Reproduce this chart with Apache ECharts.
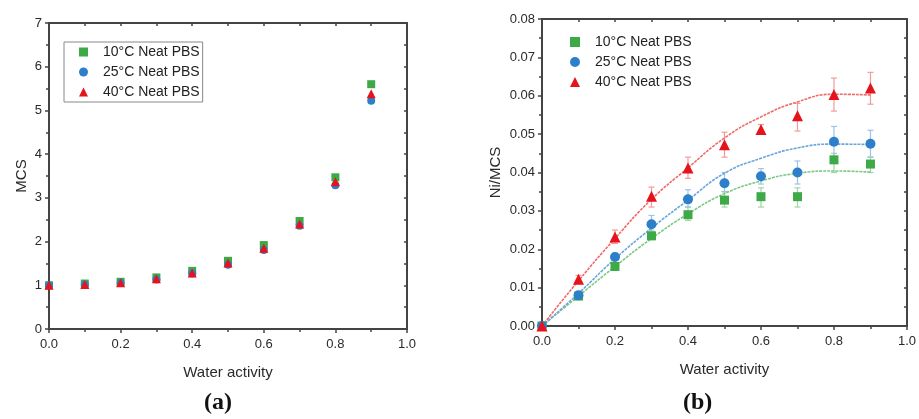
<!DOCTYPE html>
<html>
<head>
<meta charset="utf-8">
<script src="https://cdn.jsdelivr.net/npm/echarts@6/dist/echarts.min.js"></script>
<style>html,body{margin:0;padding:0;background:#fff}#c{width:919px;height:419px}</style>
</head>
<body>
<div id="c"></div>
<script>
// ---------- data ----------
const waterActivity = [0, 0.1, 0.2, 0.3, 0.4, 0.5, 0.6, 0.7, 0.8, 0.9];
const seriesNames = ['10°C Neat PBS', '25°C Neat PBS', '40°C Neat PBS'];

// (a) MCS
const mcs10 = [1.0, 1.04, 1.08, 1.18, 1.33, 1.56, 1.92, 2.47, 3.47, 5.6];
const mcs25 = [1.0, 1.01, 1.05, 1.13, 1.27, 1.47, 1.81, 2.36, 3.29, 5.22];
const mcs40 = [1.0, 1.02, 1.06, 1.15, 1.28, 1.51, 1.85, 2.40, 3.37, 5.38];

// (b) Ni/MCS
const ni10 = [0, 0.0078, 0.0155, 0.0235, 0.0290, 0.0328, 0.0337, 0.0337, 0.0433, 0.0422];
const ni25 = [0, 0.0080, 0.0180, 0.0265, 0.0330, 0.0372, 0.0390, 0.0400, 0.0480, 0.0475];
const ni40 = [0, 0.0122, 0.0232, 0.0338, 0.0412, 0.0472, 0.0512, 0.0548, 0.0603, 0.0620];

const ni10Low  = [0, 0.0072, 0.0148, 0.0225, 0.0275, 0.0310, 0.0310, 0.0310, 0.0400, 0.0400];
const ni10High = [0, 0.0085, 0.0162, 0.0250, 0.0310, 0.0350, 0.0360, 0.0360, 0.0450, 0.0440];
const ni25Low  = [0, 0.0075, 0.0172, 0.0245, 0.0310, 0.0350, 0.0370, 0.0370, 0.0440, 0.0440];
const ni25High = [0, 0.0088, 0.0190, 0.0288, 0.0355, 0.0400, 0.0410, 0.0430, 0.0520, 0.0510];
const ni40Low  = [0, 0.0112, 0.0215, 0.0310, 0.0385, 0.0440, 0.0500, 0.0508, 0.0560, 0.0578];
const ni40High = [0, 0.0132, 0.0250, 0.0362, 0.0440, 0.0505, 0.0525, 0.0580, 0.0646, 0.0661];

// fitted curves
const fit10 = [0, 0.0078, 0.0155, 0.0228, 0.0292, 0.0345, 0.0378, 0.0398, 0.0404, 0.0401];
const fit25 = [0, 0.0085, 0.0175, 0.0255, 0.0328, 0.0398, 0.0437, 0.0464, 0.0474, 0.0473];
const fit40 = [0, 0.0118, 0.0228, 0.0330, 0.0412, 0.0490, 0.0545, 0.0584, 0.0604, 0.0602];

// ---------- styling ----------
const FONT = 'Liberation Sans, Arial, sans-serif';
const AX = '#444';
const TXT = '#2a2a2a';
const colors = ['#3daa47', '#2e7fc9', '#e5131b'];
const fitColors = ['#7cc884', '#6aa6dc', '#f06a6a'];
const errColors = ['#9fd6a4', '#9cc3e8', '#f29a9a'];
const symbols = ['rect', 'circle', 'triangle'];
const symSizeA = [8, 8, 9];
const symSizeB = [9, 10, 11];

function pairs(xs, ys) { return xs.map((x, i) => [x, ys[i]]); }
function triples(xs, lo, hi) { return xs.slice(1).map((x, i) => [x, lo[i + 1], hi[i + 1]]); }

function bottomX(gi, name) {
  return {
    gridIndex: gi, type: 'value', position: 'bottom', min: 0, max: 1, interval: 0.2,
    axisLine: { onZero: false, lineStyle: { color: AX, width: 2 } },
    axisTick: { inside: false, length: 4, lineStyle: { color: AX, width: 1.5 } },
    minorTick: { show: true, splitNumber: 2, length: 3, lineStyle: { color: AX, width: 1.5 } },
    splitLine: { show: false },
    axisLabel: { formatter: v => v.toFixed(1), fontSize: 13, color: TXT, margin: 9, fontFamily: FONT },
    name: name, nameLocation: 'middle', nameGap: 36,
    nameTextStyle: { fontSize: 15, color: TXT, fontFamily: FONT }
  };
}
function topX(gi) {
  return {
    gridIndex: gi, type: 'value', position: 'top', min: 0, max: 1, interval: 0.1,
    axisLine: { onZero: false, lineStyle: { color: AX, width: 2 } },
    axisTick: { inside: true, length: 3, lineStyle: { color: AX, width: 1.5 } },
    axisLabel: { show: false }, splitLine: { show: false }
  };
}
function leftY(gi, max, interval, fmt, name, gap) {
  return {
    gridIndex: gi, type: 'value', position: 'left', min: 0, max: max, interval: interval,
    axisLine: { show: true, onZero: false, lineStyle: { color: AX, width: 2 } },
    axisTick: { show: true, inside: false, length: 4, lineStyle: { color: AX, width: 1.5 } },
    minorTick: { show: true, splitNumber: 2, length: 3, lineStyle: { color: AX, width: 1.5 } },
    splitLine: { show: false },
    axisLabel: { formatter: fmt, fontSize: 13, color: TXT, margin: 7, fontFamily: FONT },
    name: name, nameLocation: 'middle', nameGap: gap,
    nameTextStyle: { fontSize: 15, color: TXT, fontFamily: FONT }
  };
}
function rightY(gi, max, interval) {
  return {
    gridIndex: gi, type: 'value', position: 'right', min: 0, max: max, interval: interval,
    axisLine: { show: true, onZero: false, lineStyle: { color: AX, width: 2 } },
    axisTick: { show: true, inside: true, length: 3, lineStyle: { color: AX, width: 1.5 } },
    axisLabel: { show: false }, splitLine: { show: false }
  };
}

const series = [];
const mcsAll = [mcs10, mcs25, mcs40];
mcsAll.forEach((vals, k) => {
  series.push({
    name: seriesNames[k], type: 'scatter', xAxisIndex: 0, yAxisIndex: 0,
    symbol: symbols[k], symbolSize: symSizeA[k], clip: false,
    itemStyle: { color: colors[k], opacity: 1 },
    data: pairs(waterActivity, vals), z: 3 + k
  });
});

const fits = [fit10, fit25, fit40];
fits.forEach((vals, k) => {
  series.push({
    name: 'fit' + k, type: 'line', xAxisIndex: 2, yAxisIndex: 2,
    smooth: true, showSymbol: false, symbol: 'none', silent: true,
    lineStyle: { color: fitColors[k], width: 1.6, type: [3, 1] },
    data: pairs(waterActivity, vals), z: 2
  });
});

const errs = [[ni10Low, ni10High], [ni25Low, ni25High], [ni40Low, ni40High]];
errs.forEach((lh, k) => {
  series.push({
    name: 'err' + k, type: 'custom', xAxisIndex: 2, yAxisIndex: 2, silent: true, z: 2,
    renderItem: function (params, api) {
      const x = api.value(0), lo = api.value(1), hi = api.value(2);
      const a = api.coord([x, lo]), b = api.coord([x, hi]);
      const st = { stroke: errColors[k], lineWidth: 1.2 };
      return {
        type: 'group', children: [
          { type: 'line', shape: { x1: a[0], y1: a[1], x2: b[0], y2: b[1] }, style: st },
          { type: 'line', shape: { x1: a[0] - 3, y1: a[1], x2: a[0] + 3, y2: a[1] }, style: st },
          { type: 'line', shape: { x1: b[0] - 3, y1: b[1], x2: b[0] + 3, y2: b[1] }, style: st }
        ]
      };
    },
    data: triples(waterActivity, lh[0], lh[1])
  });
});

const niAll = [ni10, ni25, ni40];
niAll.forEach((vals, k) => {
  series.push({
    name: seriesNames[k], type: 'scatter', xAxisIndex: 2, yAxisIndex: 2,
    symbol: symbols[k], symbolSize: symSizeB[k], clip: false,
    itemStyle: { color: colors[k], opacity: 1 },
    data: pairs(waterActivity, vals), z: 5 + k
  });
});

const legendText = { fontSize: 14, color: '#222', fontFamily: FONT, lineHeight: 14, padding: [0, 0, 0, 10] };

const option = {
  animation: false,
  backgroundColor: '#fff',
  grid: [
    { left: 49, top: 23, width: 358, height: 306 },
    { left: 542, top: 19, width: 368, height: 307 }
  ],
  xAxis: [bottomX(0, 'Water activity'), topX(0), bottomX(1, 'Water activity'), topX(1)],
  yAxis: [
    leftY(0, 7, 1, v => String(v), 'MCS', 20),
    rightY(0, 7, 0.5),
    leftY(1, 0.08, 0.01, v => v.toFixed(2), 'Ni/MCS', 39),
    rightY(1, 0.08, 0.005)
  ],
  legend: [
    {
      left: 64, top: 42, orient: 'vertical', itemWidth: 9, itemHeight: 9, itemGap: 6,
      padding: [3, 3, 3, 15], borderColor: '#888', borderWidth: 1,
      data: seriesNames, textStyle: legendText, selectedMode: false
    },
    {
      left: 555, top: 32, orient: 'vertical', itemWidth: 10, itemHeight: 10, itemGap: 6,
      padding: [3, 3, 3, 15],
      data: seriesNames, textStyle: legendText, selectedMode: false
    }
  ],
  graphic: [
    { type: 'text', left: 204, top: 391, style: { text: '(a)', font: 'bold 24px "Liberation Serif", serif', fill: '#111' } },
    { type: 'text', left: 683, top: 391, style: { text: '(b)', font: 'bold 24px "Liberation Serif", serif', fill: '#111' } }
  ],
  series: series
};

const chart = echarts.init(document.getElementById('c'), null, { renderer: 'canvas' });
chart.setOption(option);
</script>
</body>
</html>
